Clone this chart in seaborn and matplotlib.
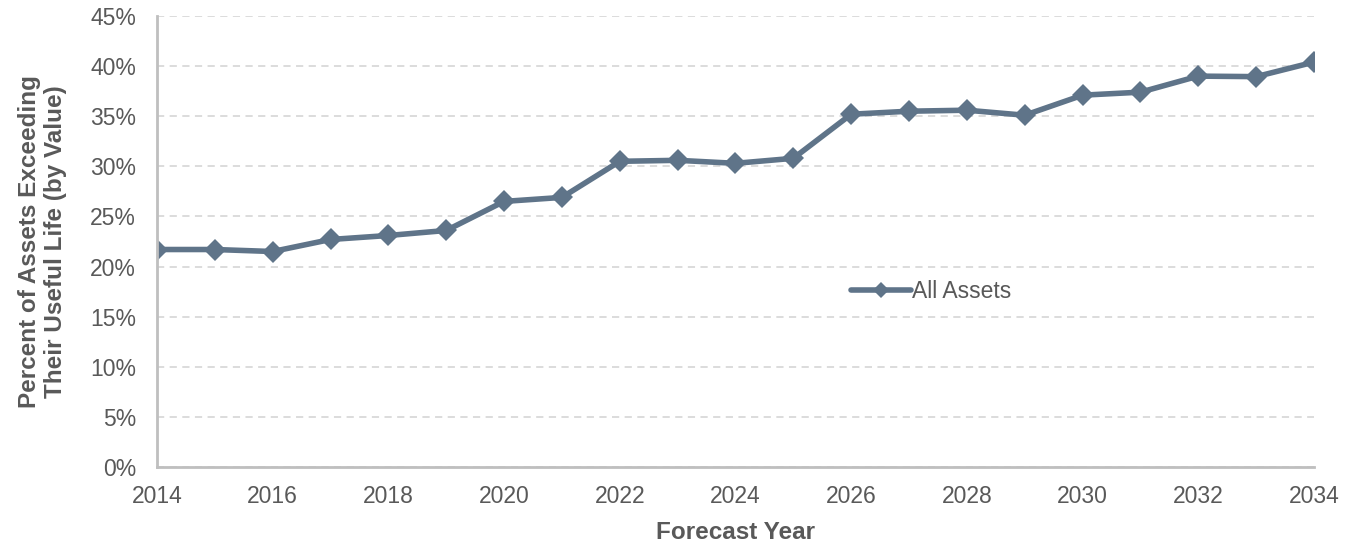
import matplotlib
matplotlib.use("Agg")
import matplotlib.pyplot as plt
import seaborn as sns
import pandas as pd
from matplotlib.ticker import FuncFormatter, MultipleLocator

years = list(range(2014, 2035))
values = [21.7, 21.7, 21.5, 22.7, 23.1, 23.6, 26.5, 26.9, 30.5, 30.6, 30.3,
          30.8, 35.2, 35.5, 35.6, 35.1, 37.1, 37.4, 39.0, 38.95, 40.4]
series_name = "All Assets"

sns.set_theme(style="white")
plt.rcParams['font.family'] = ['Liberation Sans', 'DejaVu Sans']

df = pd.DataFrame({"Year": years, "Pct": values, "Series": series_name})

fig = plt.figure(figsize=(13.53, 5.46), dpi=100)
ax = fig.add_axes([0.116, 0.1447, 0.8552, 0.826])

line_color = "#5f7489"
sns.lineplot(data=df, x="Year", y="Pct", hue="Series", palette=[line_color],
             marker="D", markersize=11, linewidth=4, markeredgewidth=0,
             ax=ax)

ax.set_xlim(2014, 2034)
ax.set_ylim(0, 45)
ax.xaxis.set_major_locator(MultipleLocator(2))
ax.xaxis.set_minor_locator(MultipleLocator(1))
ax.yaxis.set_major_locator(MultipleLocator(5))
ax.yaxis.set_major_formatter(FuncFormatter(lambda v, p: f"{v:.0f}%"))

ax.grid(axis="y", color="#d9d9d9", linestyle=(0, (4, 3)), linewidth=1.3)
ax.set_axisbelow(True)

for s in ["top", "right"]:
    ax.spines[s].set_visible(False)
for s in ["left", "bottom"]:
    ax.spines[s].set_color("#bfbfbf")
    ax.spines[s].set_linewidth(2)

ax.tick_params(axis="both", which="both", direction="out", color="#bfbfbf",
               width=1.5, labelcolor="#595959", labelsize=16.5)
ax.tick_params(axis="x", which="major", length=5, pad=8)
ax.tick_params(axis="x", which="minor", length=5)
ax.tick_params(axis="y", which="major", length=5, pad=10)

ax.set_xlabel("Forecast Year", fontsize=17.5, fontweight="bold",
              color="#595959", labelpad=9)
ax.set_ylabel("Percent of Assets Exceeding\nTheir Useful Life (by Value)",
              fontsize=17.5, fontweight="bold", color="#595959", labelpad=17,
              linespacing=1.12)

leg = ax.legend(loc="center left", bbox_to_anchor=(0.6, 0.39), frameon=False,
                fontsize=16.5, handlelength=2.6, handletextpad=0.05,
                borderpad=0, borderaxespad=0)
for t in leg.get_texts():
    t.set_color("#595959")
for h in leg.legend_handles:
    h.set_markersize(8)

fig.savefig("out.png", dpi=100)
